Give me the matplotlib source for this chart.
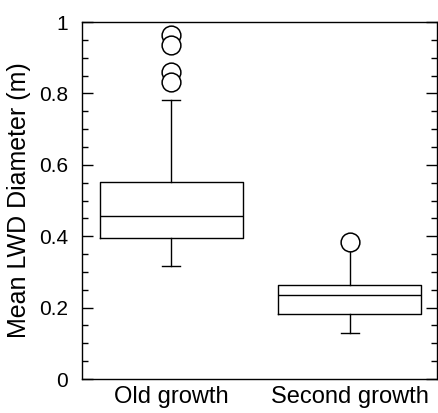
import matplotlib
matplotlib.use("Agg")
import matplotlib.pyplot as plt
from matplotlib.ticker import MultipleLocator, FuncFormatter

plt.rcParams['font.family'] = ['Liberation Sans', 'DejaVu Sans']

groups = ["Old growth", "Second growth"]
q1 = [0.396, 0.182]
median = [0.456, 0.234]
q3 = [0.553, 0.262]
whislo = [0.317, 0.128]
whishi = [0.781, 0.362]
outliers = [[0.965, 0.937, 0.861, 0.833], [0.384]]

stats = []
for i in range(len(groups)):
    stats.append({"label": groups[i], "q1": q1[i], "med": median[i], "q3": q3[i],
                  "whislo": whislo[i], "whishi": whishi[i], "fliers": outliers[i]})

fig = plt.figure(figsize=(4.38, 4.13), dpi=100)
ax = fig.add_axes([0.187, 0.0823, 0.811, 0.8644])

lw = 1.0
bp = ax.bxp(stats, positions=[1, 2], widths=0.8, showfliers=True,
            boxprops=dict(color='black', linewidth=lw),
            medianprops=dict(color='black', linewidth=lw),
            whiskerprops=dict(color='black', linewidth=lw),
            capprops=dict(color='black', linewidth=lw),
            capwidths=0.1,
            flierprops=dict(marker='o', markersize=13.5, markerfacecolor='white',
                            markeredgecolor='black', markeredgewidth=1.1))
# upper cap of second group hides under the outlier circle
bp['caps'][3].set_visible(False)

ax.set_xlim(0.5, 2.49)
ax.set_ylim(0, 1)
ax.yaxis.set_major_locator(MultipleLocator(0.2))
ax.yaxis.set_minor_locator(MultipleLocator(0.05))
ax.yaxis.set_major_formatter(FuncFormatter(lambda v, p: '%g' % round(v, 2)))
ax.tick_params(axis='y', which='both', direction='in', left=True, right=True, labelsize=15, pad=10)
ax.tick_params(axis='y', which='major', length=8, width=1)
ax.tick_params(axis='y', which='minor', length=4, width=1)
ax.tick_params(axis='x', length=0, labelsize=17, pad=5)
ax.set_ylabel("Mean LWD Diameter (m)", fontsize=18, labelpad=6)
for s in ax.spines.values():
    s.set_linewidth(1.0)

fig.savefig("out.png", dpi=100)
